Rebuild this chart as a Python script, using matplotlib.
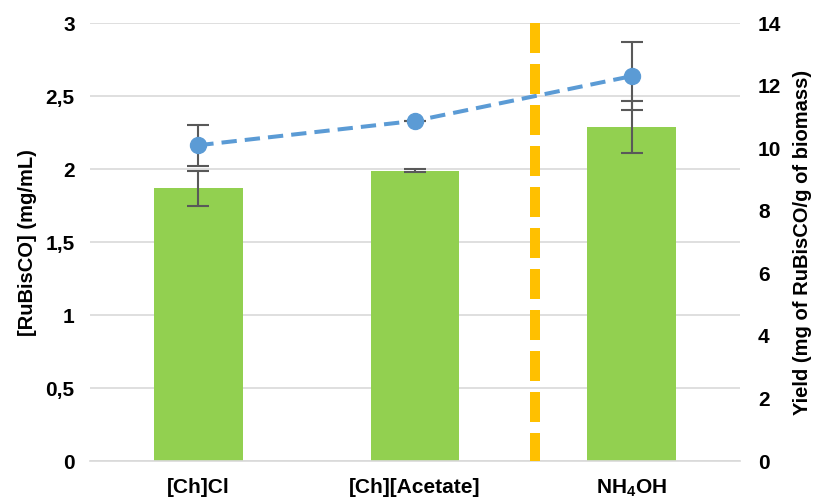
import numpy as np
import matplotlib.pyplot as plt
from matplotlib.ticker import FuncFormatter

plt.rcParams['font.family'] = ['Liberation Sans', 'DejaVu Sans']
plt.rcParams['font.weight'] = 'bold'
plt.rcParams['mathtext.fontset'] = 'custom'
plt.rcParams['mathtext.rm'] = 'Liberation Sans:bold'
plt.rcParams['mathtext.it'] = 'Liberation Sans:bold'
plt.rcParams['mathtext.bf'] = 'Liberation Sans:bold'

# Données
categories = ['[Ch]Cl', '[Ch][Acetate]', r'NH$_4$OH']
rubisco = [1.87, 1.99, 2.29]          # mg/mL (axe gauche)
rubisco_err = [0.12, 0.01, 0.18]
yield_vals = [10.10, 10.88, 12.31]     # mg/g biomasse (axe droit)
yield_err = [0.66, 0.0, 1.09]
separator_x = 1.554                    # ligne verticale jaune

green = '#92D050'
blue = '#5B9BD5'
yellow = '#FFC000'
err_col = '#595959'
grid_col = '#D9D9D9'

fig = plt.figure(figsize=(8.13, 5.01), dpi=100)
ax = fig.add_axes([0.1107, 0.0798, 0.7995, 0.8737])
x = np.arange(len(categories))

ax.bar(x, rubisco, width=0.41, color=green, zorder=2)
ax.errorbar(x, rubisco, yerr=rubisco_err, fmt='none', ecolor=err_col,
            elinewidth=1.5, capsize=8, capthick=1.5, zorder=3)

ax.set_xlim(-0.5, 2.5)
ax.set_ylim(0, 3)
ax.set_yticks(np.arange(0, 3.01, 0.5))
ax.yaxis.set_major_formatter(FuncFormatter(lambda v, p: f'{v:g}'.replace('.', ',')))
ax.set_xticks(x)
ax.set_xticklabels(categories)
ax.grid(axis='y', color=grid_col, linewidth=1.2, zorder=0)
ax.set_axisbelow(True)
for s in ['top', 'right', 'left']:
    ax.spines[s].set_visible(False)
ax.spines['bottom'].set_color(grid_col)
ax.spines['bottom'].set_linewidth(1.2)
ax.tick_params(axis='both', length=0, labelsize=15, colors='black')
ax.tick_params(axis='y', pad=11)
ax.tick_params(axis='x', pad=12)
ax.set_ylabel('[RuBisCO] (mg/mL)', fontsize=14.5, fontweight='bold', labelpad=6)

ax2 = ax.twinx()
ax2.set_ylim(0, 14)
ax2.set_yticks(np.arange(0, 15, 2))
for s in ax2.spines.values():
    s.set_visible(False)
ax2.tick_params(axis='y', length=0, labelsize=15, pad=13, colors='black')

ax2.errorbar(x, yield_vals, yerr=yield_err, fmt='none', ecolor=err_col,
             elinewidth=1.5, capsize=8, capthick=1.5, zorder=3)
ax2.plot(x, yield_vals, color=blue, linewidth=2.9, linestyle=(0, (3.8, 2.0)),
         marker='o', markersize=11.5, markerfacecolor=blue, markeredgecolor=blue,
         zorder=4)
ax2.plot([separator_x, separator_x], [14, 0], color=yellow, linewidth=7.2,
         linestyle=(0, (3.0, 1.1)), solid_capstyle='butt', dash_capstyle='butt',
         zorder=5)
ax2.set_ylabel('Yield (mg of RuBisCO/g of biomass)', fontsize=14.5,
               fontweight='bold', labelpad=8)

fig.savefig('out.png', dpi=100)
